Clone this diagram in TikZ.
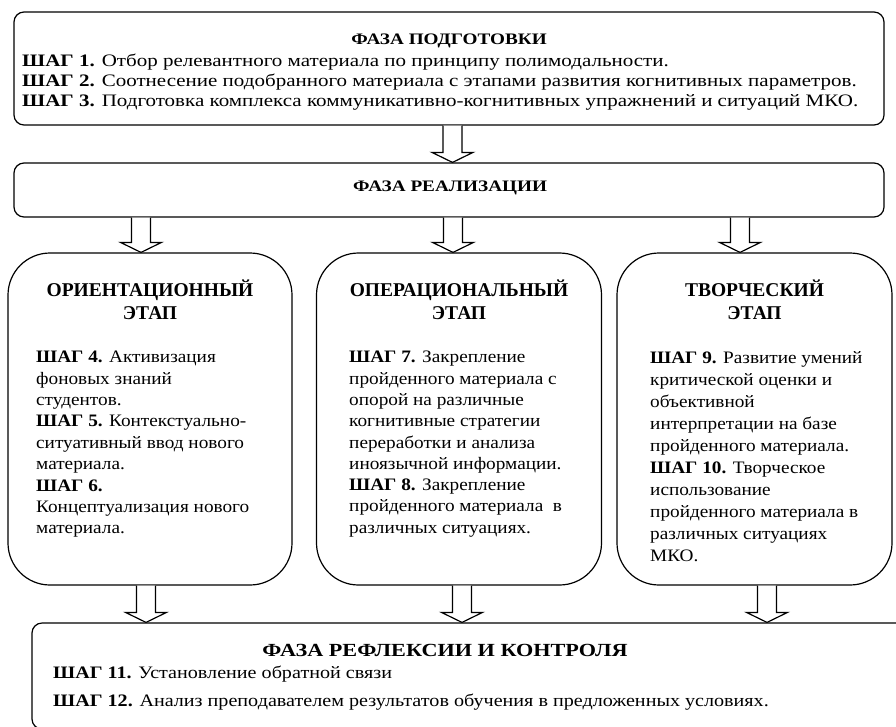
\documentclass[tikz,border=0pt]{standalone}
\usepackage{fontspec}
\setmainfont{Liberation Serif}
\newfontfamily\widefont[FakeStretch=1.2]{Liberation Serif}
\newfontfamily\stagefont[FakeStretch=1.1]{Liberation Serif}
\newfontfamily\reflfont[FakeStretch=1.15]{Liberation Serif}
\usetikzlibrary{calc}

% hollow block arrow: x position, upper node, lower node
\newcommand\blockarr[3]{%
  \coordinate (ba-s) at (#1,0 |- #2.south);
  \coordinate (ba-t) at (#1,0 |- #3.north);
  \draw[arrline] ([xshift=-9.5]ba-s) -- ([xshift=-9.5,yshift=10]ba-t) -- ([xshift=-20.5,yshift=10]ba-t)
    -- (ba-t) -- ([xshift=20.5,yshift=10]ba-t) -- ([xshift=9.5,yshift=10]ba-t) -- ([xshift=9.5]ba-s);}

\begin{document}
\begin{tikzpicture}[x=1pt, y=-1pt, font=\fontsize{17.5}{20}\selectfont,
  box/.style={draw, line width=1.2pt, rounded corners=10, inner sep=0pt},
  phasehead/.style={font=\widefont\fontsize{16}{20}\selectfont\bfseries},
  stagebox/.style={box, rounded corners=42, minimum height=332},
  stagehead/.style={font=\fontsize{19.5}{23}\selectfont\bfseries, align=center},
  steptext/.style={anchor=north west, align=left, inner sep=0pt},
  arrline/.style={line width=1.2pt, line join=miter, fill=white}]
  \useasboundingbox (0,0) rectangle (896,726);
  \clip (0,0) rectangle (896,726);

  % phase boxes
  \node[box, minimum width=870, minimum height=113] (prep) at (449,68.5) {};
  \node[phasehead] (prep-h) at (449,41) {ФАЗА ПОДГОТОВКИ};
  \node[steptext, font=\widefont\fontsize{17.5}{20}\selectfont] (prep-t) at (22,54) {\textbf{ШАГ 1.} Отбор релевантного материала по принципу полимодальности.\\
    \textbf{ШАГ 2.} Соотнесение подобранного материала с этапами развития когнитивных параметров.\\
    \textbf{ШАГ 3.} Подготовка комплекса коммуникативно-когнитивных упражнений и ситуаций МКО.};
  \node[box, minimum width=870, minimum height=54] (real) at (449,190) {};
  \node[phasehead] (real-h) at (450,188) {ФАЗА РЕАЛИЗАЦИИ};

  % stage boxes
  \node[stagebox, minimum width=284] (ori) at (150,419) {};
  \node[stagebox, minimum width=285] (oper) at (459,419) {};
  \node[stagebox, minimum width=275] (creat) at (754.5,419) {};
  \foreach \n/\lab in {ori/ОРИЕНТАЦИОННЫЙ, oper/ОПЕРАЦИОНАЛЬНЫЙ, creat/ТВОРЧЕСКИЙ}
    \node[stagehead] (\n-h) at ([yshift=-47]\n.north) {\lab\\ЭТАП};
  \node[steptext, font=\stagefont\fontsize{17.5}{21.4}\selectfont] (ori-t) at (36,351) {\textbf{ШАГ 4.} Активизация\\фоновых знаний\\студентов.\\
    \textbf{ШАГ 5.} Контекстуально-\\ситуативный ввод нового\\материала.\\\textbf{ШАГ 6.}\\Концептуализация нового\\материала.};
  \node[steptext, font=\stagefont\fontsize{17.5}{21.3}\selectfont] (oper-t) at (349,351) {\textbf{ШАГ 7.} Закрепление\\пройденного материала с\\опорой на различные\\
    когнитивные стратегии\\переработки и анализа\\иноязычной информации.\\\textbf{ШАГ 8.} Закрепление\\пройденного материала\ \ в\\различных ситуациях.};
  \node[steptext, font=\stagefont\fontsize{17.5}{22}\selectfont] (creat-t) at (650,351) {\textbf{ШАГ 9.} Развитие умений\\критической оценки и\\объективной\\
    интерпретации на базе\\пройденного материала.\\\textbf{ШАГ 10.} Творческое\\использование\\пройденного материала в\\различных ситуациях\\МКО.};

  % last phase, cut by the page edge
  \node[box, minimum width=874, minimum height=106] (refl) at (469,676) {};
  \node[phasehead, font=\widefont\fontsize{18.5}{22}\selectfont\bfseries] (refl-h) at (445,650) {ФАЗА РЕФЛЕКСИИ И КОНТРОЛЯ};
  \node[steptext, font=\reflfont\fontsize{17.5}{28}\selectfont] (refl-t) at (53,666) {\textbf{ШАГ 11.} Установление обратной связи\\
    \textbf{ШАГ 12.} Анализ преподавателем результатов обучения в предложенных условиях.};

  % arrows
  \blockarr{452.5}{prep}{real}
  \foreach \x/\n in {141/ori, 453/oper, 740/creat} \blockarr{\x}{real}{\n};
  \foreach \x/\n in {146/ori, 462/oper, 767/creat} \blockarr{\x}{\n}{refl};
\end{tikzpicture}
\end{document}
